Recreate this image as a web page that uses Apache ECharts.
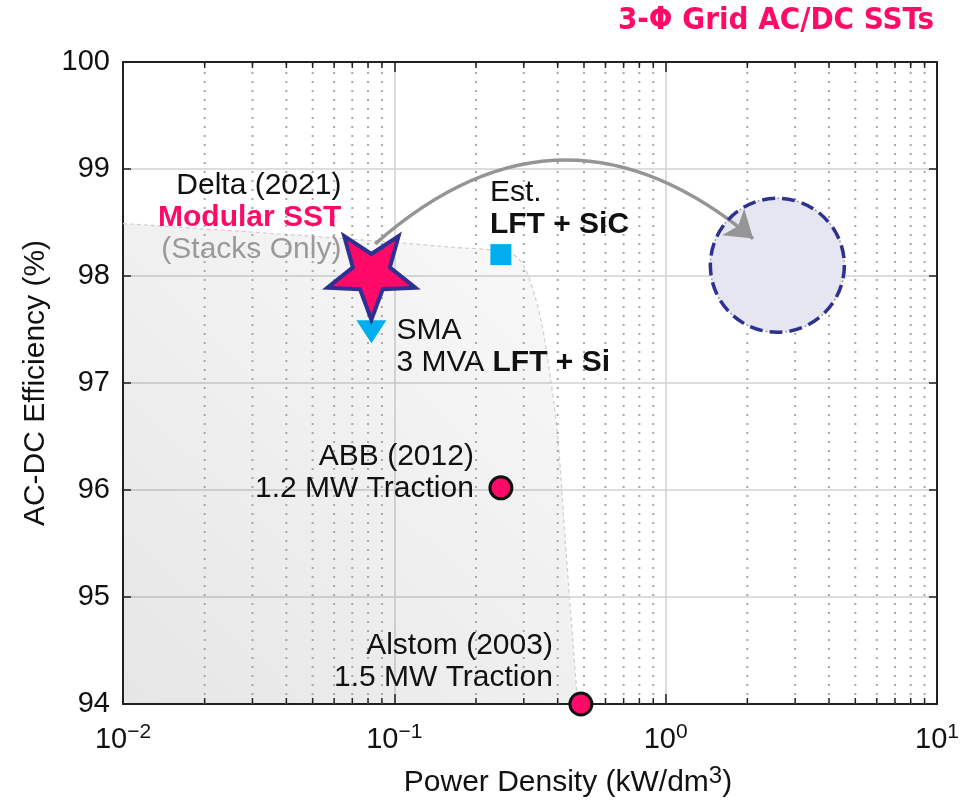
<!DOCTYPE html>
<html>
<head>
<meta charset="utf-8">
<script src="https://cdn.jsdelivr.net/npm/echarts@6/dist/echarts.min.js"></script>
<style>
  html, body { margin: 0; padding: 0; background: #fff; }
  #chart { width: 978px; height: 804px; }
</style>
</head>
<body>
<div id="chart"></div>
<script>
// Power density (kW/dm^3) vs AC-DC efficiency (%) of 3-phase grid AC/DC SSTs
const deltaSST   = [[0.0823, 98.02]];            // Delta (2021) modular SST, stacks only
const smaLFTSi   = [[0.0823, 97.48]];            // SMA 3 MVA, LFT + Si
const estLFTSiC  = [[0.247, 98.20]];             // estimated LFT + SiC
const abbTraction    = [[0.247, 96.02]];         // ABB (2012) 1.2 MW traction
const alstomTraction = [[0.487, 94.00]];         // Alstom (2003) 1.5 MW traction
const targetZone = [[2.58, 98.10]];              // target region for SSTs
const trendArrow = [[0.085, 98.30], [2.10, 98.35]];

// boundary of the shaded conventional-technology region
const limitX = [0.01, 0.0448, 0.162, 0.269, 0.305, 0.347, 0.377, 0.401, 0.429, 0.474];
const limitY = [98.49, 98.38, 98.27, 98.21, 98.06, 97.59, 97.03, 96.47, 95.44, 94.00];

// axis ranges and ticks
const xDecades = [0.01, 0.1, 1];
const xMinorSteps = [2, 3, 4, 5, 6, 7, 8, 9];
const yTicks = [94, 95, 96, 97, 98, 99, 100];

const FONT = "'Liberation Sans', Arial, Helvetica, sans-serif";
const PINK = '#ff0a68';
const NAVY = '#2e3192';
const CYAN = '#00aeef';

const minorX = [];
xDecades.forEach(d => xMinorSteps.forEach(m => minorX.push([+(d * m).toPrecision(3), yTicks[0]])));

const rich = {
  k: { fontFamily: FONT, fontSize: 30, color: '#111', lineHeight: 32 },
  b: { fontFamily: FONT, fontSize: 30, color: '#111', fontWeight: 'bold', lineHeight: 32 },
  p: { fontFamily: FONT, fontSize: 30, color: PINK, fontWeight: 'bold', lineHeight: 32 },
  g: { fontFamily: FONT, fontSize: 30, color: '#9a9a9a', lineHeight: 32 }
};

function starPath(inner) {
  const pts = [];
  for (let i = 0; i < 10; i++) {
    const a = (90 + i * 36) * Math.PI / 180;
    const r = i % 2 === 0 ? 100 : 100 * inner;
    pts.push((100 + r * Math.cos(a)).toFixed(2) + ' ' + (100 + r * Math.sin(a)).toFixed(2));
  }
  return 'path://M' + pts.join(' L') + ' Z';
}

function expLabel(v) {
  const e = Math.round(Math.log10(v));
  const s = e < 0 ? '\u2212' + (-e) : String(e);
  return '{b|10}{s|' + s + '}';
}

const chart = echarts.init(document.getElementById('chart'), null, { renderer: 'canvas' });

const option = {
  backgroundColor: '#fff',
  animation: false,
  grid: { left: 123, right: 41, top: 62, bottom: 100, show: false },
  graphic: [{
    type: 'text', right: 44, top: 5,
    style: { text: '3-\u03A6 Grid AC/DC SSTs', fill: PINK,
      font: "bold 31px 'Liberation Sans Narrow', 'DejaVu Sans Condensed', sans-serif" }
  }],
  xAxis: [{
    type: 'log', logBase: 10, min: 0.01, max: 10, splitNumber: 3,
    name: '{n|Power Density (kW/dm}{u|3}{n|)}',
    nameLocation: 'middle', nameGap: 60,
    nameTextStyle: {
      padding: [0, 0, 0, 76],
      rich: {
        n: { fontFamily: FONT, fontSize: 30, color: '#111' },
        u: { fontFamily: FONT, fontSize: 24, color: '#111', verticalAlign: 'top', padding: [0, 0, 14, 0] }
      }
    },
    axisLine: { show: true, onZero: false, lineStyle: { color: '#222', width: 2 } },
    axisTick: { show: true, inside: true, length: 10, lineStyle: { color: '#222', width: 1.5 } },
    axisLabel: {
      margin: 18, formatter: expLabel,
      rich: {
        b: { fontFamily: FONT, fontSize: 29, color: '#111' },
        s: { fontFamily: FONT, fontSize: 21, color: '#111', verticalAlign: 'top', padding: [0, 0, 14, 0] }
      }
    },
    splitLine: { show: true, lineStyle: { color: '#d2d2d2', width: 1.5 } }
  }, {
    type: 'log', logBase: 10, min: 0.01, max: 10, splitNumber: 3, position: 'top',
    axisLine: { show: true, onZero: false, lineStyle: { color: '#222', width: 2 } },
    axisTick: { show: true, inside: true, length: 10, lineStyle: { color: '#222', width: 1.5 } },
    axisLabel: { show: false }, splitLine: { show: false }
  }],
  yAxis: [{
    type: 'value', min: yTicks[0], max: yTicks[yTicks.length - 1], interval: 1,
    name: 'AC-DC Efficiency (%)', nameLocation: 'middle', nameGap: 58, nameRotate: 90,
    nameTextStyle: { fontFamily: FONT, fontSize: 30, color: '#111' },
    axisLine: { show: true, onZero: false, lineStyle: { color: '#222', width: 2 } },
    axisTick: { show: true, inside: true, length: 8, lineStyle: { color: '#222', width: 1.5 } },
    axisLabel: { fontFamily: FONT, fontSize: 29, color: '#111', margin: 13, padding: [7, 0, 0, 0] },
    splitLine: { show: true, lineStyle: { color: '#d2d2d2', width: 1.5 } }
  }, {
    type: 'value', min: yTicks[0], max: yTicks[yTicks.length - 1], interval: 1, position: 'right',
    axisLine: { show: true, onZero: false, lineStyle: { color: '#222', width: 2 } },
    axisTick: { show: true, inside: true, length: 8, lineStyle: { color: '#222', width: 1.5 } },
    axisLabel: { show: false }, splitLine: { show: false }
  }],
  series: [
    {
      // shaded region reached by conventional designs
      type: 'line', z: 1, symbol: 'none', smooth: 0.3,
      data: limitX.map((x, i) => [x, limitY[i]]),
      lineStyle: { color: '#cfcfcf', width: 1.2, type: [4, 3] },
      areaStyle: {
        origin: 'start',
        color: { type: 'linear', x: 0, y: 1, x2: 1, y2: 0, colorStops: [
          { offset: 0, color: 'rgba(0,0,0,0.14)' },
          { offset: 1, color: 'rgba(0,0,0,0.03)' }
        ] }
      },
      silent: true
    },
    {
      // dotted minor grid and minor ticks of the log axis
      type: 'custom', z: 2, silent: true, clip: false,
      data: minorX,
      renderItem: function (params, api) {
        const x = api.value(0);
        const b = api.coord([x, yTicks[0]]);
        const t = api.coord([x, yTicks[yTicks.length - 1]]);
        return {
          type: 'group', children: [
            { type: 'line', shape: { x1: b[0], y1: b[1], x2: t[0], y2: t[1] },
              style: { stroke: '#a8a8a8', lineWidth: 2, lineDash: [2, 7] } },
            { type: 'line', shape: { x1: b[0], y1: b[1], x2: b[0], y2: b[1] - 6 },
              style: { stroke: '#222', lineWidth: 1.5 } },
            { type: 'line', shape: { x1: t[0], y1: t[1], x2: t[0], y2: t[1] + 6 },
              style: { stroke: '#222', lineWidth: 1.5 } }
          ]
        };
      }
    },
    {
      // target zone
      type: 'scatter', z: 3, silent: true, clip: false,
      data: targetZone, symbol: 'circle', symbolSize: 134,
      itemStyle: { color: '#e6e6f2', opacity: 1, borderColor: '#a0a0a0', borderWidth: 1.5, borderType: [2, 3] }
    },
    {
      type: 'scatter', z: 4, silent: true, clip: false,
      data: targetZone, symbol: 'circle', symbolSize: 134,
      itemStyle: { color: 'rgba(0,0,0,0)', opacity: 1, borderColor: NAVY, borderWidth: 3.5, borderType: [13, 7] }
    },
    {
      // trend arrow
      type: 'lines', coordinateSystem: 'cartesian2d', z: 4, silent: true,
      data: [{ coords: trendArrow }],
      symbol: ['none', 'arrow'], symbolSize: [17, 26],
      lineStyle: { color: '#959595', width: 3.5, curveness: 0.43, opacity: 1 }
    },
    {
      type: 'scatter', z: 6, clip: false,
      data: smaLFTSi, symbol: 'triangle', symbolSize: [30, 23], symbolRotate: 180,
      itemStyle: { color: CYAN, opacity: 1 },
      label: {
        show: true, position: 'inside', align: 'left', verticalAlign: 'middle', offset: [25, 15],
        formatter: '{k|SMA}\n{k|3 MVA }{b|LFT + Si}', rich: rich
      }
    },
    {
      type: 'scatter', z: 7, clip: false,
      data: deltaSST, symbol: starPath(0.42), symbolKeepAspect: true, symbolSize: 88,
      symbolOffset: [0, 4],
      itemStyle: { color: PINK, opacity: 1, borderColor: NAVY, borderWidth: 4 },
      label: {
        show: true, position: 'inside', align: 'right', verticalAlign: 'middle', offset: [-30, -60],
        formatter: '{k|Delta (2021)}\n{p|Modular SST}\n{g|(Stacks Only)}', rich: rich
      }
    },
    {
      type: 'scatter', z: 6, clip: false,
      data: estLFTSiC, symbol: 'rect', symbolSize: 21,
      itemStyle: { color: CYAN, opacity: 1 },
      label: {
        show: true, position: 'inside', align: 'left', verticalAlign: 'middle', offset: [-11, -46],
        formatter: '{k|Est.}\n{b|LFT + SiC}', rich: rich
      }
    },
    {
      type: 'scatter', z: 6, clip: false,
      data: abbTraction, symbol: 'circle', symbolSize: 22,
      itemStyle: { color: PINK, opacity: 1, borderColor: '#111', borderWidth: 3 },
      label: {
        show: true, position: 'inside', align: 'right', verticalAlign: 'middle', offset: [-27, -15],
        formatter: '{k|ABB (2012)}\n{k|1.2 MW Traction}', rich: rich
      }
    },
    {
      type: 'scatter', z: 6, clip: false,
      data: alstomTraction, symbol: 'circle', symbolSize: 22,
      itemStyle: { color: PINK, opacity: 1, borderColor: '#111', borderWidth: 3 },
      label: {
        show: true, position: 'inside', align: 'right', verticalAlign: 'middle', offset: [-28, -42],
        formatter: '{k|Alstom (2003)}\n{k|1.5 MW Traction}', rich: rich
      }
    }
  ]
};

chart.setOption(option);
</script>
</body>
</html>
